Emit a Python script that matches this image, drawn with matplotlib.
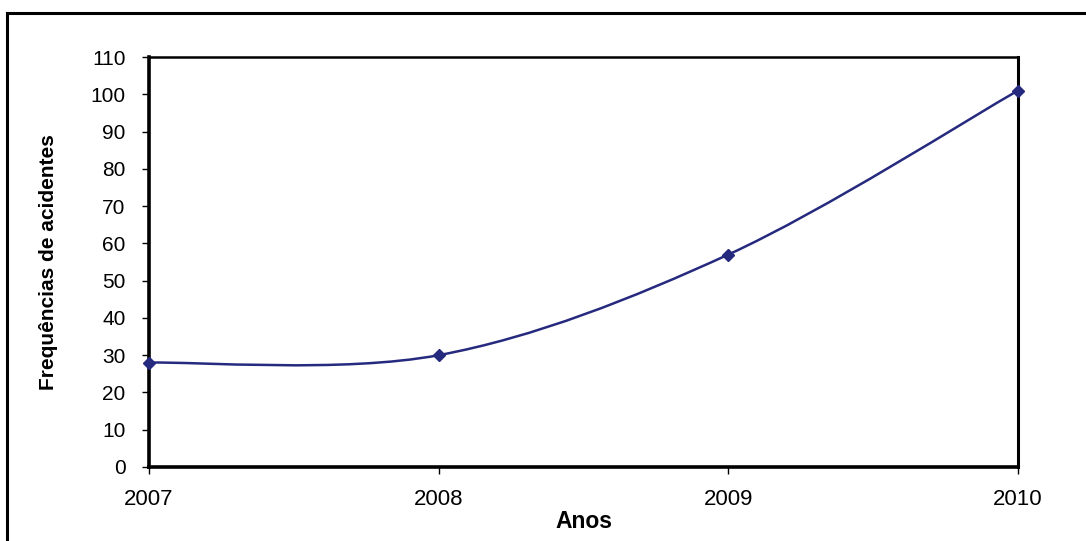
import matplotlib
matplotlib.use("Agg")
import matplotlib.pyplot as plt
from matplotlib.path import Path
from matplotlib.patches import PathPatch
from matplotlib.lines import Line2D
import numpy as np

anos = [2007, 2008, 2009, 2010]
frequencias = [28, 30, 57, 101]
yticks = list(range(0, 111, 10))

cor = '#262a7e'
fonte = ['Liberation Sans', 'DejaVu Sans']

def smooth_path(xs, ys):
	# bezier segments with excel-like smoothing (tangent = (next - prev) / 6)
	pts = np.column_stack([xs, ys]).astype(float)
	n = len(pts)
	verts = [pts[0]]
	codes = [Path.MOVETO]
	for i in range(n - 1):
		p_prev = pts[i - 1] if i > 0 else pts[i]
		p_next = pts[i + 2] if i + 2 < n else pts[i + 1]
		c1 = pts[i] + (pts[i + 1] - p_prev) / 6.0
		c2 = pts[i + 1] - (p_next - pts[i]) / 6.0
		verts += [c1, c2, pts[i + 1]]
		codes += [Path.CURVE4] * 3
	return Path(verts, codes)

fig = plt.figure(figsize=(10.86, 5.41), dpi=100)
ax = fig.add_axes([0.1372, 0.1368, 0.8002, 0.7578])

patch = PathPatch(smooth_path(anos, frequencias), facecolor='none', edgecolor=cor, lw=1.8, clip_on=False)
ax.add_patch(patch)
ax.plot(anos, frequencias, linestyle='none', marker='D', markersize=6.5, color=cor, clip_on=False, zorder=5)

ax.set_xlim(2007, 2010)
ax.set_ylim(0, 110)
ax.set_xticks(anos)
ax.set_xticklabels([str(a) for a in anos])
ax.set_yticks(yticks)

for lado, lw in [('left', 2.6), ('bottom', 2.6), ('top', 1.8), ('right', 2.2)]:
	ax.spines[lado].set_linewidth(lw)
	ax.spines[lado].set_color('black')

ax.tick_params(axis='y', direction='out', length=5, width=1, labelsize=15, pad=12)
ax.tick_params(axis='x', direction='out', length=5, width=1, labelsize=16, pad=11)
for t in ax.get_xticklabels() + ax.get_yticklabels():
	t.set_family(fonte)

ax.set_xlabel('Anos', fontsize=16.5, fontweight='bold', family=fonte, labelpad=0)
ax.set_ylabel('Frequências de acidentes', fontsize=15, fontweight='bold',
	family=['Liberation Sans Narrow'] + fonte, labelpad=23)

# outer frame (top and left edges)
fig.add_artist(Line2D([0.0065, 1.0], [0.976, 0.976], transform=fig.transFigure, color='black', lw=2.2))
fig.add_artist(Line2D([0.0065, 0.0065], [0.0, 0.976], transform=fig.transFigure, color='black', lw=2.2))

fig.savefig('out.png', dpi=100)
